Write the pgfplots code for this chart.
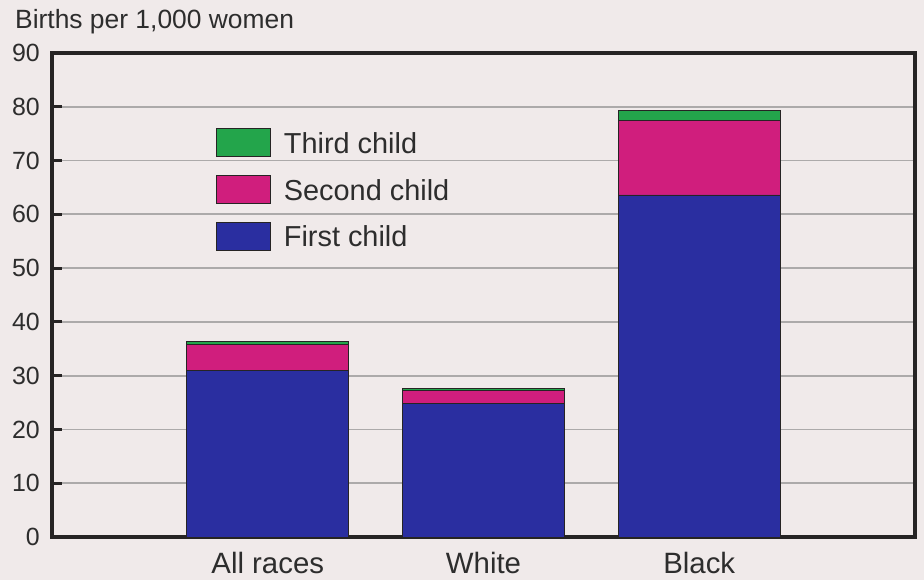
\documentclass[border=0pt]{standalone}
\usepackage{pgfplots}
\pgfplotsset{compat=1.18}
\usepackage{fontspec}
\setmainfont{Liberation Sans}
\definecolor{bgc}{RGB}{240,234,234}
\definecolor{textc}{RGB}{45,45,45}
\definecolor{framec}{RGB}{38,36,36}
\definecolor{gridc}{RGB}{172,170,170}
\definecolor{firstc}{RGB}{42,46,160}
\definecolor{secondc}{RGB}{208,30,125}
\definecolor{thirdc}{RGB}{35,165,75}
\begin{document}
\begin{tikzpicture}
\fill[bgc] (0bp,0bp) rectangle (924bp,580bp);
\node[anchor=base west, inner sep=0pt, text=textc, font=\fontsize{26.5}{32}\selectfont] at (15bp,551bp) {Births per 1,000 women};
\begin{axis}[
  at={(52bp,43bp)}, anchor=south west,
  scale only axis, width=863bp, height=484bp,
  ybar stacked, bar width=0.75,
  xmin=-1, xmax=3, ymin=0, ymax=90,
  xtick={0,1,2}, xticklabels={All races,White,Black},
  ytick={0,10,...,90},
  tickpos=left,
  major tick length=10bp,
  ytick style={line width=3bp, color=framec},
  xtick style={draw=none},
  ymajorgrids,
  grid style={line width=1.8bp, color=gridc},
  axis line style={line width=4bp, color=framec},
  /pgf/number format/assume math mode=true,
  yticklabel style={font=\fontsize{25}{28}\selectfont, text=textc, inner sep=0pt, xshift=-12bp},
  xticklabel style={font=\fontsize{29.5}{32}\selectfont, text=textc, inner sep=0pt, yshift=-15bp},
  every axis plot/.append style={draw=framec, line width=0.9bp},
  reverse legend,
  legend cell align=left,
  legend image code/.code={\draw[#1] (0bp,-13bp) rectangle (54bp,15bp);},
  legend style={at={(rel axis cs:0.19,0.845)}, anchor=north west, draw=none, fill=none,
    font=\fontsize{29}{32}\selectfont, text=textc, inner sep=0pt, outer sep=0pt,
    row sep=18bp, column sep=13bp, nodes={inner sep=0pt}},
]
\addplot[fill=firstc] coordinates {(0,31.0) (1,24.9) (2,63.6)};
\addplot[fill=secondc] coordinates {(0,4.8) (1,2.4) (2,13.8)};
\addplot[fill=thirdc] coordinates {(0,0.6) (1,0.4) (2,2.0)};
\legend{First child, Second child, Third child}
\draw[framec, line width=7bp] (rel axis cs:0,0) ++(-2bp,-1.5bp) -- ([yshift=-1.5bp,xshift=2bp]rel axis cs:1,0);
\end{axis}
\end{tikzpicture}
\end{document}
